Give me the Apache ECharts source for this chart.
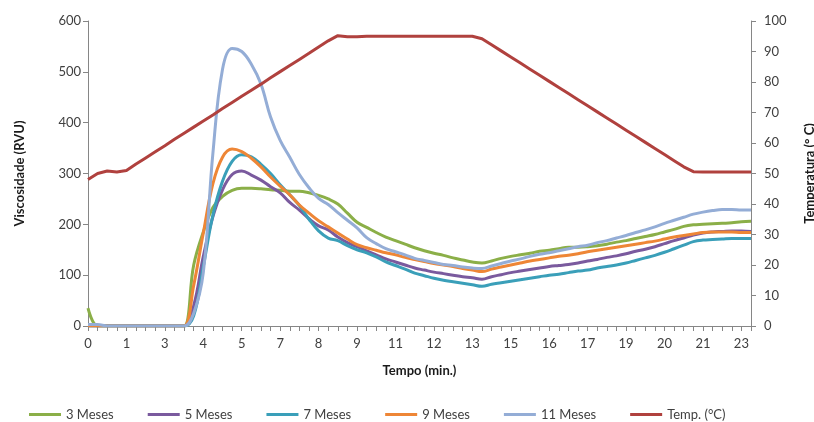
<!DOCTYPE html>
<html>
<head>
<meta charset="utf-8">
<script src="https://cdn.jsdelivr.net/npm/echarts@6/dist/echarts.min.js"></script>
<style>
  html, body { margin: 0; padding: 0; background: #fff; }
  #grafico { width: 814px; height: 422px; }
</style>
</head>
<body>
<div id="grafico"></div>
<script>
// tempo em minutos, um ponto a cada 20 s (0 a 23 min)
const tempo = Array.from({ length: 70 }, (_, k) => (k / 3).toFixed(2));

const meses3 = [35, 0, 0, 0, 0, 0, 0, 0, 0, 0, 0,
  120, 185, 233, 255, 267, 271, 271, 270, 268, 267,
  265, 265, 262, 257, 250, 240, 222, 204, 194, 184,
  175, 168, 161, 154, 148, 143, 139, 134, 130, 126,
  124, 128, 133, 137, 140, 143, 147, 149, 152, 155,
  155, 156, 158, 161, 165, 168, 172, 176, 180, 185,
  190, 196, 199, 200, 201, 202, 203, 205, 206];

const meses5 = [0, 0, 0, 0, 0, 0, 0, 0, 0, 0, 0,
  40, 137, 215, 268, 298, 305, 297, 287, 274, 262,
  243, 228, 211, 197, 189, 175, 164, 156, 148, 140,
  132, 126, 120, 114, 110, 106, 103, 100, 97, 95,
  92, 97, 101, 105, 108, 111, 114, 117, 119, 121,
  124, 128, 131, 135, 138, 142, 147, 151, 156, 162,
  168, 173, 179, 183, 185, 186, 187, 187, 186];

const meses7 = [0, 0, 0, 0, 0, 0, 0, 0, 0, 0, 0,
  20, 117, 218, 285, 324, 337, 333, 318, 300, 278,
  258, 237, 210, 187, 173, 168, 158, 150, 144, 136,
  126, 119, 112, 104, 99, 94, 90, 87, 84, 81,
  78, 82, 85, 88, 91, 94, 97, 100, 102, 105,
  108, 110, 114, 117, 120, 124, 129, 134, 139, 145,
  152, 159, 166, 169, 170, 171, 172, 172, 172];

const meses9 = [0, 0, 0, 0, 0, 0, 0, 0, 0, 0, 0,
  80, 183, 280, 332, 348, 343, 330, 313, 293, 275,
  258, 238, 222, 207, 195, 183, 171, 160, 154, 149,
  144, 140, 135, 131, 127, 123, 120, 117, 113, 110,
  107, 112, 116, 120, 124, 128, 131, 134, 137, 139,
  142, 146, 149, 152, 155, 158, 161, 164, 167, 171,
  175, 178, 181, 184, 185, 185, 185, 184, 184];

const meses11 = [3, 3, 0, 0, 0, 0, 0, 0, 0, 0, 0,
  25, 105, 340, 505, 546, 540, 515, 476, 411, 365,
  332, 298, 272, 251, 239, 223, 208, 193, 174, 162,
  152, 146, 140, 133, 129, 125, 121, 119, 116, 114,
  113, 118, 123, 128, 132, 137, 141, 144, 148, 152,
  156, 159, 164, 168, 173, 178, 184, 189, 195, 202,
  208, 214, 220, 224, 227, 229, 229, 228, 228];

const temperatura = [48.0, 50.0, 50.8, 50.5, 51.0, 53.1, 55.1, 57.1, 59.1, 61.2,
  63.2, 65.2, 67.2, 69.2, 71.3, 73.3, 75.3, 77.3, 79.3, 81.4,
  83.4, 85.4, 87.4, 89.4, 91.5, 93.5, 95.2, 94.8, 94.8, 95.0,
  95.0, 95.0, 95.0, 95.0, 95.0, 95.0, 95.0, 95.0, 95.0, 95.0,
  95.0, 94.2, 92.2, 90.2, 88.2, 86.2, 84.2, 82.2, 80.2, 78.2,
  76.2, 74.2, 72.2, 70.2, 68.2, 66.2, 64.2, 62.2, 60.2, 58.2,
  56.2, 54.2, 52.2, 50.6, 50.5, 50.5, 50.5, 50.5, 50.5, 50.5];

const fonte = 'Lato, "DejaVu Sans", sans-serif';
const cinza = '#868686';

const linha = (nome, dados, cor, eixo) => ({
  name: nome,
  type: 'line',
  data: dados,
  yAxisIndex: eixo,
  symbol: 'none',
  smooth: eixo === 0 ? 0.4 : false,
  lineStyle: { width: 3, color: cor },
  itemStyle: { color: cor }
});

const chart = echarts.init(document.getElementById('grafico'));
chart.setOption({
  animation: false,
  textStyle: { fontFamily: fonte },
  grid: { left: 88, right: 63, top: 21, bottom: 96, outerBoundsMode: 'none' },
  legend: {
    top: 403, left: 24,
    icon: 'rect', itemWidth: 32, itemHeight: 3, itemGap: 34,
    textStyle: { fontFamily: fonte, fontSize: 13, color: '#404040' },
    data: ['3 Meses', '5 Meses', '7 Meses', '9 Meses', '11 Meses', 'Temp. (°C)']
  },
  xAxis: {
    type: 'category',
    data: tempo,
    boundaryGap: false,
    name: 'Tempo (min.)',
    nameLocation: 'middle',
    nameGap: 38,
    nameTextStyle: { fontFamily: fonte, fontWeight: 'bold', fontSize: 13, color: '#1a1a1a' },
    axisLine: { lineStyle: { color: cinza } },
    axisTick: { interval: 0, length: 5, lineStyle: { color: cinza } },
    axisLabel: {
      interval: (i) => i % 4 === 0 && i < 69,
      margin: 11, fontSize: 13, color: '#404040', fontFamily: fonte,
      formatter: v => String(Math.round(Number(v)))
    },
    splitLine: { show: false }
  },
  yAxis: [{
    type: 'value', min: 0, max: 600, interval: 100,
    name: 'Viscosidade (RVU)', nameLocation: 'middle', nameGap: 62,
    nameTextStyle: { fontFamily: fonte, fontWeight: 'bold', fontSize: 13, color: '#1a1a1a' },
    axisLine: { show: true, lineStyle: { color: cinza } },
    axisTick: { show: true, length: 5, lineStyle: { color: cinza } },
    axisLabel: { margin: 7, fontSize: 13, color: '#404040', fontFamily: fonte },
    splitLine: { show: false }
  }, {
    type: 'value', min: 0, max: 100, interval: 10, position: 'right',
    name: 'Temperatura (° C)', nameLocation: 'middle', nameGap: 52,
    nameTextStyle: { fontFamily: fonte, fontWeight: 'bold', fontSize: 13, color: '#1a1a1a' },
    axisLine: { show: true, lineStyle: { color: cinza } },
    axisTick: { show: true, length: 5, lineStyle: { color: cinza } },
    axisLabel: { margin: 13, fontSize: 13, color: '#404040', fontFamily: fonte },
    splitLine: { show: false }
  }],
  series: [
    linha('3 Meses', meses3, '#8BAF48', 0),
    linha('5 Meses', meses5, '#7A5A9E', 0),
    linha('7 Meses', meses7, '#3A9FB9', 0),
    linha('9 Meses', meses9, '#EE8636', 0),
    linha('11 Meses', meses11, '#94ADD6', 0),
    linha('Temp. (°C)', temperatura, '#B0413E', 1)
  ]
});
</script>
</body>
</html>
